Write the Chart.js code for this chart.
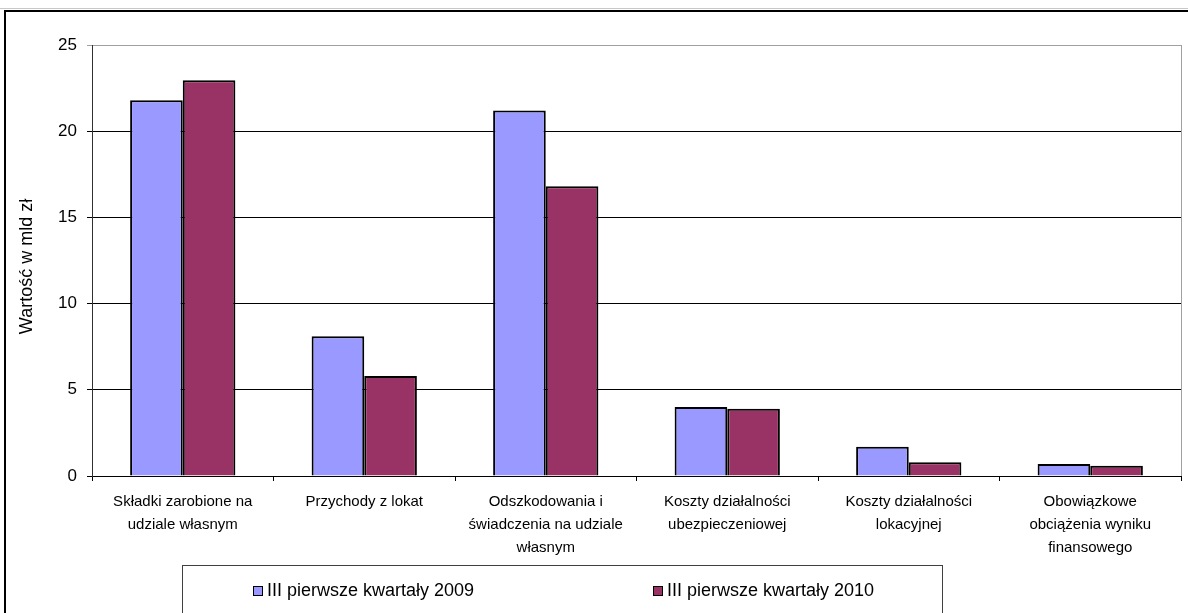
<!DOCTYPE html>
<html lang="pl">
<head>
<meta charset="utf-8">
<title>Wybrane pozycje – wartość w mld zł</title>
<script src="https://cdn.jsdelivr.net/npm/chart.js@4/dist/chart.umd.min.js"></script>
<style>
  html, body { margin: 0; padding: 0; background: #ffffff; }
  #wrap { position: relative; width: 1188px; height: 613px; }
  canvas { display: block; }
</style>
</head>
<body>
<div id="wrap"><canvas id="chart" width="1188" height="613"></canvas></div>
<script>
// Categories (multi-line axis labels)
const categories = [
  ["Składki zarobione na", "udziale własnym"],
  ["Przychody z lokat"],
  ["Odszkodowania i", "świadczenia na udziale", "własnym"],
  ["Koszty działalności", "ubezpieczeniowej"],
  ["Koszty działalności", "lokacyjnej"],
  ["Obowiązkowe", "obciążenia wyniku", "finansowego"]
];

// Series: values in mld zł
const seriesNames = ["III pierwsze kwartały 2009", "III pierwsze kwartały 2010"];
const values2009 = [21.8, 8.1, 21.2, 4.0, 1.7, 0.7];
const values2010 = [22.95, 5.8, 16.8, 3.9, 0.8, 0.6];

// Value axis ticks
const yTicks = [0, 5, 10, 15, 20, 25];
const yTitle = "Wartość w mld zł";

const FONT = "'Liberation Sans', Arial, sans-serif";

// Outer frame around the whole figure
const framePlugin = {
  id: 'frame',
  beforeDraw(chart) {
    const ctx = chart.ctx;
    ctx.save();
    ctx.fillStyle = '#ffffff';
    ctx.fillRect(0, 0, chart.width, chart.height);
    ctx.strokeStyle = '#c8c8c8';
    ctx.lineWidth = 1;
    ctx.beginPath();
    ctx.moveTo(0, 8.5);
    ctx.lineTo(chart.width, 8.5);
    ctx.stroke();
    ctx.strokeStyle = '#000000';
    ctx.lineWidth = 2;
    ctx.strokeRect(5, 11, chart.width + 20, chart.height + 20);
    ctx.restore();
  },
  afterDraw(chart) {
    // right edge of the plot area
    const a = chart.chartArea;
    const ctx = chart.ctx;
    ctx.save();
    ctx.strokeStyle = '#a0a0a0';
    ctx.lineWidth = 1;
    ctx.beginPath();
    ctx.moveTo(Math.round(a.right) + 0.5, a.top);
    ctx.lineTo(Math.round(a.right) + 0.5, a.bottom);
    ctx.stroke();
    ctx.restore();
  }
};

// Legend in a framed box under the axis labels
const boxLegendPlugin = {
  id: 'boxLegend',
  afterDraw(chart) {
    const ctx = chart.ctx;
    ctx.save();
    ctx.strokeStyle = '#404040';
    ctx.lineWidth = 1;
    ctx.strokeRect(182.5, 565.5, 760, 80);
    const itemX = [253, 653];
    const cy = 591;
    ctx.font = '18px ' + FONT;
    ctx.textBaseline = 'middle';
    ctx.textAlign = 'left';
    chart.data.datasets.forEach((ds, i) => {
      const x = itemX[i];
      ctx.fillStyle = ds.backgroundColor;
      ctx.fillRect(x, cy - 5, 10, 10);
      ctx.strokeStyle = '#000000';
      ctx.strokeRect(x + 0.5, cy - 4.5, 9, 9);
      ctx.fillStyle = '#000000';
      ctx.fillText(ds.label, x + 14, cy);
    });
    ctx.restore();
  }
};

// Rotated value-axis title, centred a little below the plot middle
const yTitlePlugin = {
  id: 'yTitle',
  afterDraw(chart) {
    const a = chart.chartArea;
    const ctx = chart.ctx;
    ctx.save();
    ctx.translate(27, (a.top + a.bottom) / 2 + 6);
    ctx.rotate(-Math.PI / 2);
    ctx.font = '18px ' + FONT;
    ctx.fillStyle = '#000000';
    ctx.textAlign = 'center';
    ctx.textBaseline = 'middle';
    ctx.fillText(yTitle, 0, 0);
    ctx.restore();
  }
};

new Chart(document.getElementById('chart'), {
  type: 'bar',
  data: {
    labels: categories,
    datasets: [
      {
        label: seriesNames[0],
        data: values2009,
        backgroundColor: '#9999ff',
        borderColor: '#000000',
        borderWidth: 2,
        categoryPercentage: 0.58,
        barPercentage: 1.0
      },
      {
        label: seriesNames[1],
        data: values2010,
        backgroundColor: '#993366',
        borderColor: '#000000',
        borderWidth: 2,
        categoryPercentage: 0.58,
        barPercentage: 1.0
      }
    ]
  },
  options: {
    responsive: false,
    animation: false,
    devicePixelRatio: 1,
    layout: { padding: { top: 45, right: 7, bottom: 0, left: 0 } },
    plugins: {
      legend: { display: false },
      title: { display: false },
      tooltip: { enabled: false }
    },
    scales: {
      x: {
        grid: {
          offset: true,
          drawOnChartArea: false,
          drawTicks: true,
          tickLength: 5,
          color: '#000000'
        },
        border: { display: true, color: '#000000', width: 1 },
        ticks: {
          autoSkip: false,
          maxRotation: 0,
          minRotation: 0,
          padding: 9,
          color: '#000000',
          font: { family: FONT, size: 15, lineHeight: 1.53 }
        },
        afterFit(scale) { scale.height = 137; }
      },
      y: {
        min: yTicks[0],
        max: yTicks[yTicks.length - 1],
        afterBuildTicks(scale) { scale.ticks = yTicks.map(v => ({ value: v })); },
        grid: {
          drawTicks: true,
          tickLength: 5,
          color: ctx => (ctx.tick && ctx.tick.value === yTicks[yTicks.length - 1]) ? '#a0a0a0' : '#000000',
          lineWidth: 1
        },
        border: { display: true, color: '#303030', width: 1 },
        ticks: {
          padding: 10,
          color: '#000000',
          font: { family: FONT, size: 17 }
        },
        title: { display: false },
        afterFit(scale) { scale.width = 92; }
      }
    }
  },
  plugins: [framePlugin, boxLegendPlugin, yTitlePlugin]
});
</script>
</body>
</html>
